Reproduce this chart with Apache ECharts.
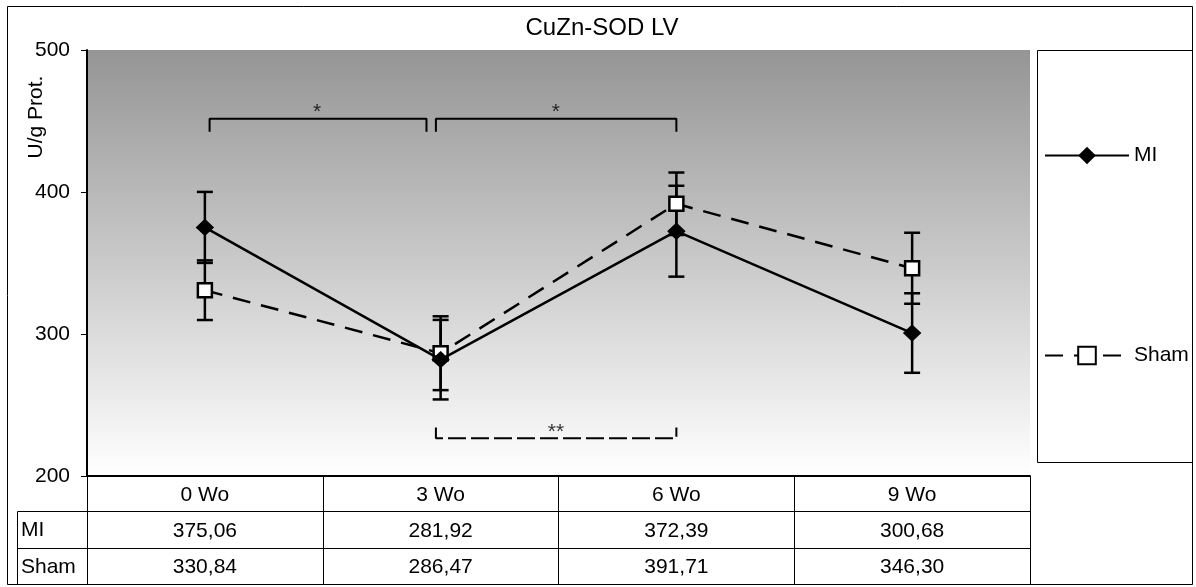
<!DOCTYPE html>
<html>
<head>
<meta charset="utf-8">
<script src="https://cdn.jsdelivr.net/npm/echarts@6/dist/echarts.min.js"></script>
<style>
html,body{margin:0;padding:0;background:#fff;}
#chart{width:1196px;height:587px;}
</style>
</head>
<body>
<div id="chart"></div>
<script>
// ---- data ----
const categories = ['0 Wo', '3 Wo', '6 Wo', '9 Wo'];
const miValues = [375.06, 281.92, 372.39, 300.68];
const shamValues = [330.84, 286.47, 391.71, 346.30];
const miErrors = [25, 28, 32, 28];
const shamErrors = [21, 26, 22, 25];
const yMin = 200, yMax = 500, yInterval = 100;
// significance brackets in data units (x on a 0..3 category-centre scale)
const bracketA = [[0.02, 442.5], [0.02, 451.6], [0.94, 451.6], [0.94, 442.5]];
const bracketB = [[0.98, 442.5], [0.98, 451.6], [2.0, 451.6], [2.0, 442.5]];
const bracketC = [[0.98, 234.2], [0.98, 226.5], [2.0, 226.5], [2.0, 234.2]];
const starMarks = [[0.476, 456.2, '*'], [1.489, 456.2, '*'], [1.489, 230.5, '**']];

const FONT = '"Liberation Sans", Arial, sans-serif';
const fmt = v => v.toFixed(2).replace('.', ',');

const chart = echarts.init(document.getElementById('chart'), null, {renderer: 'canvas'});

const G = {left: 87, right: 1196 - 1030, top: 50, bottom: 587 - 476};

function errData(vals, errs) {
  return vals.map((v, i) => [i, v - errs[i], v + errs[i]]);
}
function errRender(params, api) {
  const x = api.value(0);
  const lo = api.coord([x, api.value(1)]);
  const hi = api.coord([x, api.value(2)]);
  const w = 8;
  const st = {stroke: '#000', lineWidth: 2.5};
  return {
    type: 'group',
    children: [
      {type: 'line', shape: {x1: lo[0], y1: lo[1], x2: hi[0], y2: hi[1]}, style: st},
      {type: 'line', shape: {x1: lo[0] - w, y1: lo[1], x2: lo[0] + w, y2: lo[1]}, style: st},
      {type: 'line', shape: {x1: hi[0] - w, y1: hi[1], x2: hi[0] + w, y2: hi[1]}, style: st}
    ]
  };
}

function tableAxis(labels, offset, tickLen, showLine, lineWidth, margin) {
  return {
    type: 'category',
    data: categories,
    position: 'bottom',
    offset: offset,
    gridIndex: 0,
    boundaryGap: true,
    axisLine: {show: showLine, onZero: false, lineStyle: {color: '#000', width: lineWidth}},
    axisTick: {show: tickLen > 0, length: tickLen, inside: false, lineStyle: {color: '#000', width: 1}},
    axisLabel: {
      show: !!labels,
      margin: margin,
      fontSize: 21,
      fontFamily: FONT,
      color: '#000',
      formatter: (val, idx) => labels ? labels[idx] : ''
    },
    splitLine: {show: false}
  };
}

const option = {
  animation: false,
  backgroundColor: '#fff',
  title: {
    text: 'CuZn-SOD LV',
    left: 602,
    textAlign: 'center',
    top: 16,
    padding: 0,
    textStyle: {fontSize: 24, fontWeight: 'normal', fontFamily: FONT, color: '#000'}
  },
  grid: {
    left: G.left, right: G.right, top: G.top, bottom: G.bottom,
    show: true,
    borderWidth: 0,
    backgroundColor: {
      type: 'linear', x: 0, y: 0, x2: 0, y2: 1,
      colorStops: [{offset: 0, color: '#959595'}, {offset: 1, color: '#ffffff'}]
    }
  },
  legend: {
    orient: 'vertical',
    left: 1044,
    top: 145,
    padding: 0,
    itemWidth: 84,
    itemHeight: 22,
    itemGap: 179,
    data: ['MI', 'Sham'],
    textStyle: {fontSize: 21, fontFamily: FONT, color: '#000', lineHeight: 21}
  },
  xAxis: [
    tableAxis(categories, 0, 35, true, 2, 9),
    tableAxis(miValues.map(fmt), 35, 37, true, 1, 10),
    tableAxis(shamValues.map(fmt), 72, 36, true, 1, 9),
    tableAxis(null, 108, 0, true, 1, 0),
    {type: 'value', min: -0.5, max: 3.5, show: false, gridIndex: 0, axisLine: {onZero: false}}
  ],
  yAxis: {
    type: 'value',
    min: yMin, max: yMax, interval: yInterval,
    axisLine: {show: true, onZero: false, lineStyle: {color: '#000', width: 2}},
    axisTick: {show: true, length: 6, inside: false, lineStyle: {color: '#000', width: 1}},
    axisLabel: {fontSize: 21, fontFamily: FONT, color: '#000', margin: 17},
    splitLine: {show: false}
  },
  series: [
    {
      name: 'MI errors', type: 'custom', xAxisIndex: 0, yAxisIndex: 0,
      data: errData(miValues, miErrors), renderItem: errRender, z: 2, silent: true,
      encode: {x: 0, y: [1, 2]}
    },
    {
      name: 'Sham errors', type: 'custom', xAxisIndex: 0, yAxisIndex: 0,
      data: errData(shamValues, shamErrors), renderItem: errRender, z: 2, silent: true,
      encode: {x: 0, y: [1, 2]}
    },
    {
      name: 'MI', type: 'line', xAxisIndex: 0, yAxisIndex: 0, data: miValues,
      symbol: 'diamond', symbolSize: [17, 16], z: 4,
      lineStyle: {color: '#000', width: 2.5, type: 'solid'},
      itemStyle: {color: '#000', borderColor: '#000'}
    },
    {
      name: 'Sham', type: 'line', xAxisIndex: 0, yAxisIndex: 0, data: shamValues,
      symbol: 'rect', symbolSize: 14, z: 3,
      lineStyle: {color: '#000', width: 2.5, type: [18, 11]},
      itemStyle: {color: '#fff', borderColor: '#000', borderWidth: 2.5}
    },
    {
      type: 'line', xAxisIndex: 4, yAxisIndex: 0, data: bracketA, symbol: 'none', z: 2, silent: true,
      lineStyle: {color: '#000', width: 2}
    },
    {
      type: 'line', xAxisIndex: 4, yAxisIndex: 0, data: bracketB, symbol: 'none', z: 2, silent: true,
      lineStyle: {color: '#000', width: 2}
    },
    {
      type: 'line', xAxisIndex: 4, yAxisIndex: 0, data: bracketC, symbol: 'none', z: 2, silent: true,
      lineStyle: {color: '#000', width: 2, type: [18, 5]}
    },
    {
      type: 'scatter', xAxisIndex: 4, yAxisIndex: 0, data: starMarks, symbolSize: 0, z: 5, silent: true,
      label: {
        show: true, position: 'inside', fontSize: 21, fontFamily: FONT, color: '#000',
        formatter: p => p.value[2]
      }
    }
  ],
  graphic: [
    // outer border
    {type: 'rect', shape: {x: 7.5, y: 6.5, width: 1185, height: 578}, style: {fill: 'none', stroke: '#000', lineWidth: 1}, z: 0},
    // legend box
    {type: 'rect', shape: {x: 1037.5, y: 50.5, width: 155, height: 412}, style: {fill: 'none', stroke: '#000', lineWidth: 1}, z: 0},
    // table left column
    {type: 'line', shape: {x1: 17.5, y1: 511.5, x2: 87, y2: 511.5}, style: {stroke: '#000', lineWidth: 1}},
    {type: 'line', shape: {x1: 17.5, y1: 548.5, x2: 87, y2: 548.5}, style: {stroke: '#000', lineWidth: 1}},
    {type: 'line', shape: {x1: 17.5, y1: 584.5, x2: 87, y2: 584.5}, style: {stroke: '#000', lineWidth: 1}},
    {type: 'line', shape: {x1: 17.5, y1: 511.5, x2: 17.5, y2: 584.5}, style: {stroke: '#000', lineWidth: 1}},
    {type: 'text', x: 21, y: 530, style: {text: 'MI', font: '21px ' + FONT, fill: '#000', verticalAlign: 'middle'}},
    {type: 'text', x: 21, y: 567, style: {text: 'Sham', font: '21px ' + FONT, fill: '#000', verticalAlign: 'middle'}},
    // y axis name
    {type: 'text', x: 36, y: 117, rotation: Math.PI / 2,
      style: {text: 'U/g Prot.', font: '21px ' + FONT, fill: '#000', align: 'center', verticalAlign: 'middle'}}
  ]
};
chart.setOption(option);
</script>
</body>
</html>
